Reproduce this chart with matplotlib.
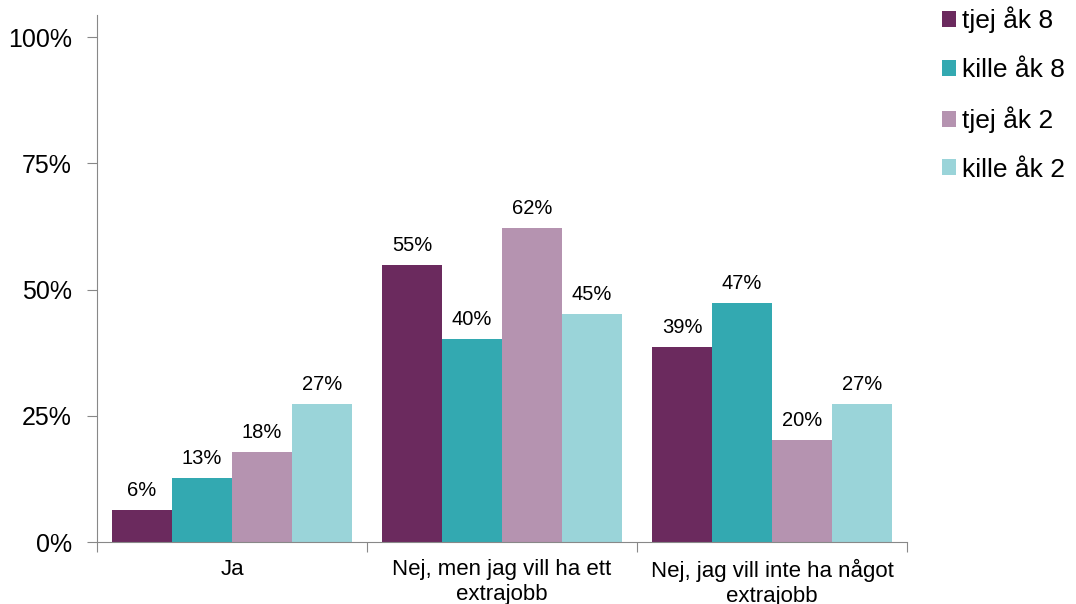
import numpy as np
import matplotlib
matplotlib.use('Agg')
import matplotlib.pyplot as plt

plt.rcParams['font.family'] = ['Liberation Sans', 'DejaVu Sans']

# --- data ---
categories = ['Ja', 'Nej, men jag vill ha ett\nextrajobb', 'Nej, jag vill inte ha något\nextrajobb']
series = ['tjej åk 8', 'kille åk 8', 'tjej åk 2', 'kille åk 2']
values = {
    'tjej åk 8': [6.4, 54.9, 38.6],
    'kille åk 8': [12.6, 40.2, 47.3],
    'tjej åk 2': [17.8, 62.2, 20.2],
    'kille åk 2': [27.3, 45.1, 27.3],
}
colors = ['#6B2A5E', '#33A9B1', '#B593B0', '#9AD4D9']

fig = plt.figure(figsize=(10.76, 6.04), dpi=100)
ax = fig.add_axes([97 / 1076, 62 / 604, 810 / 1076, 527 / 604])

x = np.arange(len(categories))
w = 0.222
for i, (name, c) in enumerate(zip(series, colors)):
    pos = x + (i - 1.5) * w
    bars = ax.bar(pos, values[name], width=w, color=c, label=name)
    for b, v in zip(bars, values[name]):
        ax.text(b.get_x() + b.get_width() / 2, v + 2.0, f'{v:.0f}%',
                ha='center', va='bottom', fontsize=14.5)

ax.set_xlim(-0.5, 2.5)
ax.set_ylim(0, 104.4)
ax.set_yticks([0, 25, 50, 75, 100])
ax.set_yticklabels(['0%', '25%', '50%', '75%', '100%'], fontsize=18)

ax.set_xticks([-0.5, 0.5, 1.5, 2.5])
ax.set_xticklabels([])
ax.set_xticks(x, minor=True)
ax.set_xticklabels(categories, minor=True, fontsize=16, linespacing=1.25)
ax.tick_params(axis='x', which='minor', length=0, pad=12)
ax.tick_params(axis='x', which='major', length=7, color='#888888')
ax.tick_params(axis='y', length=7, color='#888888', pad=11)

for s in ['top', 'right']:
    ax.spines[s].set_visible(False)
for s in ['left', 'bottom']:
    ax.spines[s].set_color('#888888')

fig.legend(loc='upper left', bbox_to_anchor=(926 / 1076, 1.015), frameon=False,
           fontsize=19, handlelength=0.55, handleheight=0.55, handletextpad=0.2,
           labelspacing=0.93, borderaxespad=0.2)

fig.savefig('out.png', dpi=100)
